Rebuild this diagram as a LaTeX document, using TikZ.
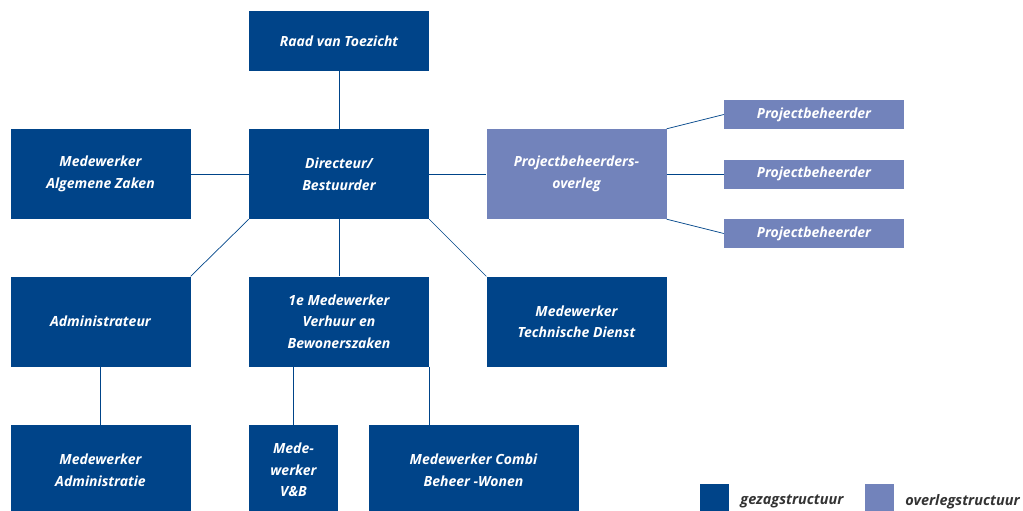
\documentclass[tikz,border=0pt]{standalone}
\usepackage{fontspec}
\setmainfont{Open Sans}
\usetikzlibrary{positioning}
\definecolor{gezag}{RGB}{0,68,137}
\definecolor{overleg}{RGB}{114,131,187}
\tikzset{box/.style={fill=gezag,text=white,align=center,inner sep=0pt,minimum width=180pt,minimum height=90pt,font=\fontsize{14}{21.5}\selectfont\bfseries\itshape},
obox/.style={box,fill=overleg},pbox/.style={obox,minimum height=29pt},
lnk/.style={draw=gezag,line width=0.7pt},
legtxt/.style={font=\fontsize{14.5}{16}\selectfont\bfseries\itshape,text=black!80,inner sep=0pt,yshift=-4pt}}
\begin{document}
\begin{tikzpicture}[x=1pt,y=-1pt]
\useasboundingbox(0,0)rectangle(1023,511);
\node[box,minimum height=60pt](raad)at(339,41){Raad van Toezicht};
\node[box](alg)at(100.5,174){Medewerker\\Algemene Zaken};
\node[box](dir)at(339,174){Directeur/\\Bestuurder};
\node[obox](ovl)at(576.5,174){Projectbeheerders-\\overleg};
\node[pbox](pb1)at(814,114.5){Projectbeheerder};
\node[pbox](pb2)at(814,174){Projectbeheerder};
\node[pbox](pb3)at(814,233.5){Projectbeheerder};
\node[box](adm)at(100.5,321.5){Administrateur};
\node[box](med1)at(339,321.5){1e Medewerker\\Verhuur en\\Bewonerszaken};
\node[box](tech)at(576.5,321.5){Medewerker\\Technische Dienst};
\node[box](madm)at(100.5,470){Medewerker\\Administratie};
\node[box,minimum width=89pt](vb)at(293.5,470){Mede-\\werker\\V\&B};
\node[box,minimum width=210pt](combi)at(473.5,470){Medewerker Combi\\Beheer -Wonen};
% legenda
\node[fill=gezag,minimum width=29pt,minimum height=27pt,inner sep=0pt](lg1)at(714.5,497.5){};
\node[legtxt,right=11pt of lg1](lt1){gezagstructuur};
\node[fill=overleg,minimum width=29pt,minimum height=27pt,inner sep=0pt](lg2)at(879.5,497.5){};
\node[legtxt,right=11pt of lg2](lt2){overlegstructuur};
\foreach\a/\b in{raad/dir,alg/dir,dir/ovl,dir/med1,adm/madm,ovl/pb2}\draw[lnk](\a)--(\b);
\draw[lnk](dir.south west)--(adm.north east);
\draw[lnk](dir.south east)--(tech.north west);
\draw[lnk](ovl.north east)--(pb1.west);
\draw[lnk](ovl.south east)--(pb3.west);
\draw[lnk](med1.south -| vb.north)--(vb.north);
\draw[lnk](med1.south east)--(med1.south east |- combi.north);
\end{tikzpicture}
\end{document}
